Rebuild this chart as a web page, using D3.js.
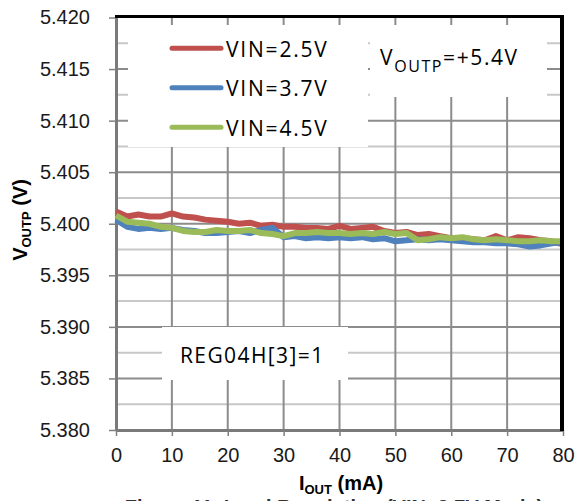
<!DOCTYPE html>
<html><head><meta charset="utf-8">
<script src="https://cdn.jsdelivr.net/npm/d3@7/dist/d3.min.js"></script>
<style>body{margin:0;background:#fff}</style>
</head><body><svg id="c" width="577" height="501"></svg>
<script>
// ---- data ----
const currents = [0,2,4,6,8,10,12,14,16,18,20,22,24,26,28,30,32,34,36,38,40,42,44,46,48,50,52,54,56,58,60,62,64,66,68,70,72,74,76,78,80];
const vin25 = [5.4012,5.4007,5.4009,5.4007,5.4007,5.4010,5.4007,5.4006,5.4004,5.4003,5.4002,5.4000,5.4001,5.3998,5.3999,5.3997,5.3997,5.3996,5.3996,5.3995,5.3998,5.3995,5.3996,5.3997,5.3993,5.3991,5.3992,5.3989,5.3990,5.3988,5.3986,5.3986,5.3985,5.3984,5.3988,5.3984,5.3987,5.3986,5.3984,5.3983,5.3980];
const vin37 = [5.4004,5.3997,5.3995,5.3996,5.3995,5.3996,5.3994,5.3993,5.3991,5.3991,5.3992,5.3993,5.3991,5.3994,5.3996,5.3987,5.3988,5.3986,5.3987,5.3986,5.3987,5.3986,5.3987,5.3985,5.3986,5.3983,5.3984,5.3985,5.3984,5.3985,5.3984,5.3983,5.3982,5.3982,5.3981,5.3981,5.3980,5.3978,5.3979,5.3981,5.3982];
const vin45 = [5.4008,5.4002,5.4001,5.4000,5.3997,5.3996,5.3993,5.3992,5.3992,5.3994,5.3993,5.3993,5.3994,5.3991,5.3990,5.3988,5.3991,5.3991,5.3992,5.3991,5.3991,5.3990,5.3991,5.3990,5.3992,5.3990,5.3991,5.3984,5.3985,5.3987,5.3986,5.3987,5.3985,5.3984,5.3985,5.3984,5.3983,5.3983,5.3984,5.3983,5.3983];
const seriesNames = ["VIN=2.5V","VIN=3.7V","VIN=4.5V"];
const seriesValues = [vin25, vin37, vin45];
const seriesColors = ["#C0504D","#4F81BD","#9BBB59"];
const xTicks = [0,10,20,30,40,50,60,70,80];
const yTicks = [5.380,5.385,5.390,5.395,5.400,5.405,5.410,5.415,5.420];
const yMinorTicks = [5.3825,5.3875,5.3925,5.3975,5.4025,5.4075,5.4125,5.4175];

// ---- layout ----
const L = 116, R = 563, T = 17.5, B = 430;
const svg = d3.select("#c");
const x = d3.scaleLinear().domain([0,80]).range([L,R]);
const y = d3.scaleLinear().domain([5.380,5.420]).range([B,T]);
const txtFont = "'Open Sans', sans-serif";

// gridlines
svg.append("g").selectAll("line").data(yMinorTicks).join("line")
  .attr("x1",L).attr("x2",R).attr("y1",d=>y(d)).attr("y2",d=>y(d))
  .attr("stroke","#c8c8c8").attr("stroke-width",2);
svg.append("g").selectAll("line").data(yTicks.slice(1,-1)).join("line")
  .attr("x1",L).attr("x2",R).attr("y1",d=>y(d)).attr("y2",d=>y(d))
  .attr("stroke","#8c8c8c").attr("stroke-width",2);
svg.append("g").selectAll("line").data(xTicks.slice(1,-1)).join("line")
  .attr("x1",d=>x(d)).attr("x2",d=>x(d)).attr("y1",T).attr("y2",B)
  .attr("stroke","#8c8c8c").attr("stroke-width",2);

// white annotation boxes
svg.append("rect").attr("x",128).attr("y",25).attr("width",240).attr("height",122).attr("fill","#fff");
svg.append("rect").attr("x",370).attr("y",25).attr("width",177).attr("height",72).attr("fill","#fff");
svg.append("rect").attr("x",162).attr("y",327).attr("width",186).attr("height",53).attr("fill","#fff");

// axes
const yAxis = d3.axisLeft(y).tickValues(yTicks).tickSize(7).tickSizeOuter(0).tickPadding(19).tickFormat(d3.format(".3f"));
const gy = svg.append("g").attr("transform",`translate(${L},0)`).call(yAxis);
const xAxis = d3.axisBottom(x).tickValues(xTicks).tickSize(6).tickSizeOuter(0).tickPadding(12).tickFormat(d3.format("d"));
const gx = svg.append("g").attr("transform",`translate(0,${B})`).call(xAxis);
[gx,gy].forEach(g=>{
  g.select(".domain").attr("stroke","#7a7a7a").attr("stroke-width",3);
  g.selectAll(".tick line").attr("stroke","#808080").attr("stroke-width",1.5);
  g.selectAll(".tick text").attr("fill","#1a1a1a").style("font-family","'Liberation Sans', Arial, sans-serif").style("font-size","20px");
});

// data lines
const line = d3.line().x((d,i)=>x(currents[i])).y(d=>y(d));
svg.append("g").selectAll("path").data(seriesValues).join("path")
  .attr("d",d=>line(d)).attr("fill","none")
  .attr("stroke",(d,i)=>seriesColors[i]).attr("stroke-width",6)
  .attr("stroke-linejoin","round").attr("stroke-linecap","butt");

// top and right border
svg.append("line").attr("x1",115).attr("x2",564).attr("y1",16.5).attr("y2",16.5).attr("stroke","#000").attr("stroke-width",3);
svg.append("line").attr("x1",562).attr("x2",562).attr("y1",15).attr("y2",431).attr("stroke","#000").attr("stroke-width",4);

// legend
const leg = svg.append("g").selectAll("g").data(seriesNames).join("g")
  .attr("transform",(d,i)=>`translate(0,${48.3 + i*39.5})`);
leg.append("line").attr("x1",172).attr("x2",221).attr("y1",0).attr("y2",0)
  .attr("stroke",(d,i)=>seriesColors[i]).attr("stroke-width",5).attr("stroke-linecap","round");
leg.append("text").attr("x",226).attr("y",8.4).text(d=>d)
  .attr("fill","#000").style("font-family",txtFont).style("font-size","21px").style("letter-spacing","1.8px");

// annotations
const vt = svg.append("text").attr("x",380).attr("y",65).attr("fill","#000")
  .style("font-family",txtFont).style("font-size","21px").style("letter-spacing","1.6px");
vt.append("tspan").text("V");
vt.append("tspan").attr("dy",7).style("font-size","16px").text("OUTP");
vt.append("tspan").attr("dy",-7).text("=+5.4V");

svg.append("text").attr("x",180).attr("y",363).attr("fill","#000")
  .style("font-family",txtFont).style("font-size","21px").style("letter-spacing","1.4px").text("REG04H[3]=1");

// axis titles
const bold = "'Liberation Sans', Arial, sans-serif";
const yl = svg.append("text").attr("transform","translate(27,220) rotate(-90)").attr("text-anchor","middle")
  .attr("fill","#000").style("font-family",bold).style("font-weight","bold").style("font-size","20px");
yl.append("tspan").text("V");
yl.append("tspan").attr("dy",4).style("font-size","13px").text("OUTP");
yl.append("tspan").attr("dy",-4).text(" (V)");

const xl = svg.append("text").attr("x",341).attr("y",490).attr("text-anchor","middle")
  .attr("fill","#000").style("font-family",bold).style("font-weight","bold").style("font-size","20px");
xl.append("tspan").text("I");
xl.append("tspan").attr("dy",4).style("font-size","13px").text("OUT");
xl.append("tspan").attr("dy",-4).text(" (mA)");

// caption (cut off at the bottom of the picture, as in the reference)
svg.append("text").attr("x",334).attr("y",514).attr("text-anchor","middle")
  .attr("fill","#333").style("font-family",bold).style("font-weight","bold").style("font-size","20px")
  .text("Figure 11. Load Regulation (VIN=3.7V Mode)");
</script></body></html>
